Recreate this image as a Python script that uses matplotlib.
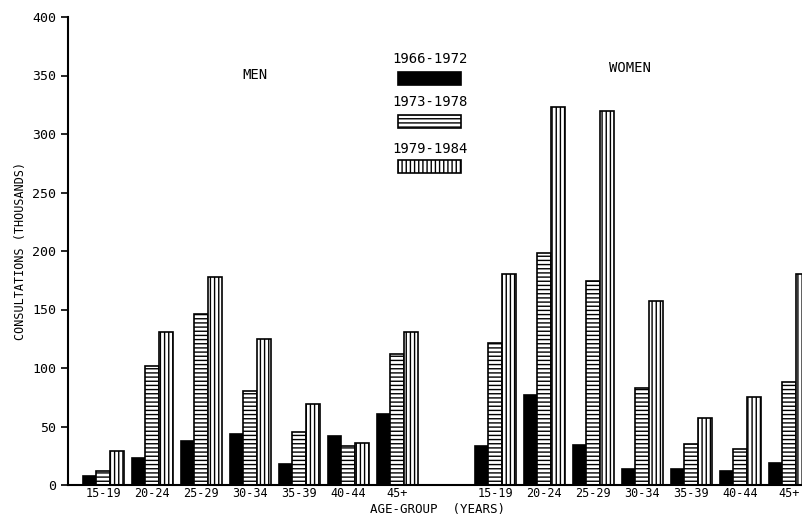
import numpy as np
import matplotlib
matplotlib.use("Agg")
import matplotlib.pyplot as plt

# consultations (thousands) by age group and period
age_groups = ["15-19", "20-24", "25-29", "30-34", "35-39", "40-44", "45+"]
periods = ["1966-1972", "1973-1978", "1979-1984"]

men_1966_1972 = [8, 23, 38, 44, 18, 42, 61]
men_1973_1978 = [12, 102, 146, 80, 45, 33, 112]
men_1979_1984 = [29, 131, 178, 125, 69, 36, 131]

women_1966_1972 = [33, 77, 34, 14, 14, 12, 19]
women_1973_1978 = [121, 198, 174, 83, 35, 31, 88]
women_1979_1984 = [180, 323, 320, 157, 57, 75, 180]

yticks = [0, 50, 100, 150, 200, 250, 300, 350, 400]

plt.rcParams["font.family"] = "DejaVu Sans Mono"
plt.rcParams["hatch.linewidth"] = 1.0

fig = plt.figure(figsize=(8.02, 5.17), dpi=100)
ax = fig.add_axes([68 / 802, 32 / 517, 1 - 68 / 802, 468 / 517])

n = len(age_groups)
men_x = np.arange(n)
women_x = np.arange(n) + n + 1
w = 0.28

styles = [
    dict(color="black", edgecolor="black"),
    dict(facecolor="white", edgecolor="black", hatch="----"),
    dict(facecolor="white", edgecolor="black", hatch="||||"),
]
men = [men_1966_1972, men_1973_1978, men_1979_1984]
women = [women_1966_1972, women_1973_1978, women_1979_1984]

for i in range(3):
    off = (i - 1) * w
    ax.bar(men_x + off, men[i], w, linewidth=1.2, **styles[i])
    ax.bar(women_x + off, women[i], w, linewidth=1.2, **styles[i])

ax.set_xlim(-0.72, 14.26)
ax.set_ylim(0, 400)
ax.set_yticks(yticks)
ax.set_xticks(list(men_x) + list(women_x))
ax.set_xticklabels(age_groups + age_groups, fontsize=8.5)
ax.tick_params(axis="x", length=0, pad=1.5)
ax.tick_params(axis="y", length=5, width=1.2, labelsize=9.5, direction="out")

for s in ["top", "right"]:
    ax.spines[s].set_visible(False)
for s in ["left", "bottom"]:
    ax.spines[s].set_linewidth(1.5)

ax.set_ylabel("CONSULTATIONS (THOUSANDS)", fontsize=8.5, labelpad=4)
fig.text(437 / 802, 1 - 509 / 517, "AGE-GROUP  (YEARS)", ha="center", va="center", fontsize=9)

fig.text(255 / 802, 1 - 75 / 517, "MEN", ha="center", va="center", fontsize=10)
fig.text(630 / 802, 1 - 68 / 517, "WOMEN", ha="center", va="center", fontsize=10)

# legend drawn as patches + labels
label_y = [59, 102, 149]
patch_y = [72, 115, 160]
for i in range(3):
    fig.text(430 / 802, 1 - label_y[i] / 517, periods[i], ha="center", va="center", fontsize=10)
    fig.patches.append(plt.Rectangle((398 / 802, 1 - (patch_y[i] + 13) / 517), 63 / 802, 13 / 517,
                                     transform=fig.transFigure, linewidth=1.2, **styles[i]))

fig.savefig("out.png", dpi=100)
